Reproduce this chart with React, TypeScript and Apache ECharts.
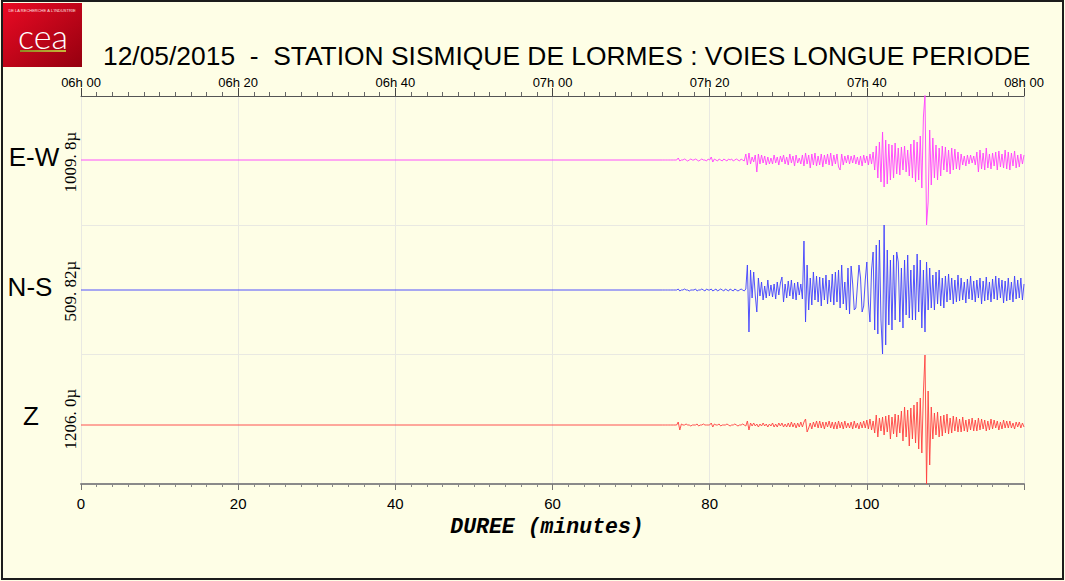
import React, { useEffect, useRef } from 'react';
import * as echarts from 'echarts';

// Sampling of the recorded traces (minutes after 06h00)
const TRACE_START_MIN = 74;
const TRACE_STEP_MIN = 0.2;

// Bottom axis tick labels (minutes) and top axis tick labels (clock time)
const DURATION_LABELS = ['0', '20', '40', '60', '80', '100', ''];
const CLOCK_LABELS = ['06h 00', '06h 20', '06h 40', '07h 00', '07h 20', '07h 40', '08h 00'];

// Channel names and scale labels
const CHANNELS = ['E-W', 'N-S', 'Z'];
const SCALES = ['1009. 8\u00b5', '509. 82\u00b5', '1206. 0\u00b5'];

// East-West channel (relative amplitude)
const EW = [
  0, 0, 0, 0, 0, 0, 0, 0, 0, 0,
  2, -1, 0, 0, 1, 0, -1, 0, 1, 0,
  0, 1, 0, -1, 0, 1, 0, 0, -1, 1,
  0, 3, -2, 1, 0, -1, 1, 0, -1, 1,
  0, -1, 1, 0, 1, -1, 0, 1, 0, -1,
  1, 0, -1, 6, -5, 7, -4, 3, -2, 5,
  -12, 6, -4, 5, -3, 4, -5, 3, -4, 2,
  -4, 5, -3, 3, -5, 4, -2, 5, -4, 3,
  -5, 6, -3, 4, -6, 5, -3, 2, -4, 5,
  -6, 7, -4, 5, -8, 6, -5, 7, -6, 4,
  -5, 6, -7, 5, -4, 6, -5, 7, -6, 5,
  -4, 6, -7, -10, 6, -5, 4, -3, 5, -4,
  4, -3, 5, -4, 3, -5, 4, -6, 5, -3,
  4, -5, 6, -4, 8, -10, 14, -18, 18, -22,
  28, -27, 20, -24, 16, -20, 15, -18, 17, -14,
  12, -15, 13, -10, 14, -12, 10, -16, 16, -18,
  20, -22, 18, -20, 24, -28, 43, 65, -65, -42,
  30, -25, 22, -18, 15, -20, 12, -16, 14, -10,
  13, -12, 10, -14, 12, -10, 11, -9, 8, -10,
  6, -5, 4, -6, 5, -4, 5, -3, 4, -5,
  8, -12, 10, -9, 7, -10, 12, -8, 6, -9,
  7, -6, 8, -10, 9, -7, 6, -8, 10, -9,
  8, -10, 7, -6, 9, -8, 5, -7, 6, -4,
  5,
];

// North-South channel
const NS = [
  0, 0, 0, 0, 0, 0, 0, 0, 0, 0,
  1, -1, 0, 0, 1, 0, 0, -1, 0, 0,
  0, 1, -1, 0, 0, 1, 0, -1, 1, 0,
  0, 1, -1, 0, 1, -1, 0, 1, 0, -1,
  1, 0, -1, 1, 0, -1, 1, 0, -1, 0,
  1, 0, -1, 1, 25, -42, 20, -8, 18, -5,
  -22, 12, -6, 8, -10, 4, -8, 10, -6, 5,
  -7, 6, -9, 8, -5, 7, 13, -12, 6, -8,
  9, -6, 10, -9, 7, -10, 8, -5, 6, -9,
  49, -32, 25, -20, 12, -15, 18, -10, 14, -12,
  13, -16, 12, -10, 15, -14, 10, -12, 16, -15,
  18, -12, 20, -18, 25, -14, 8, -20, 22, -24,
  24, 6, -20, -18, 4, 25, 12, -22, -16, 10,
  28, -12, -32, 20, 38, -40, 45, -44, 50, -30,
  -64, 65, -55, 40, -35, 30, -40, 35, -30, 38,
  28, -32, 22, -38, 30, -25, 35, -28, 20, -30,
  25, -30, 36, -22, 30, -38, 20, -42, 28, -20,
  22, -18, 15, -20, 18, -14, 20, -16, 12, -18,
  14, -12, 16, -10, 12, -14, 10, -12, 15, -11,
  12, -10, 8, -13, 11, -9, 14, -10, 9, -12,
  10, -8, 12, -14, 9, -11, 13, -10, 8, -12,
  11, -9, 14, -10, 12, -8, 10, -13, 9, -11,
  12, -10, 8, -12, 14, -9, 10, -8, 12, -10,
  6,
];

// Vertical channel
const Z = [
  0, 0, 0, 0, 0, 0, 0, 0, 0, 0,
  3, -5, 1, 0, 0, 1, 0, 0, -1, 0,
  0, 0, 1, -1, 0, 0, 1, 0, 0, 0,
  0, 2, -2, 1, 0, 0, 1, -1, 0, 0,
  0, 1, 0, -1, 0, 0, 1, 0, -1, 0,
  0, 1, 0, -1, 4, -5, 2, -1, 2, -1,
  1, -2, 1, -1, 2, -1, 1, -2, 1, -1,
  2, -2, 1, -2, 2, -1, 2, -2, 1, -2,
  2, -2, 3, -2, 2, -3, 2, -2, 3, -2,
  3, 6, -7, -3, 2, -4, 3, -2, 4, -3,
  4, -3, 3, -4, 3, -2, 4, -3, 3, -4,
  3, -4, 4, -3, 3, -4, 4, -3, 2, -3,
  3, -4, 4, -3, 2, -4, 3, -3, 4, -3,
  5, -4, 6, -5, 4, -8, 10, -12, 7, -6,
  8, -10, 9, -7, 10, -14, 8, -9, 11, -12,
  10, -8, 14, -16, 18, -12, 15, -21, 17, -14,
  20, -18, 23, -24, 27, -28, 33, 70, -59, 34,
  -40, 18, -14, 12, -10, 13, -12, 9, -11, 10,
  -8, 11, -9, 7, -8, 9, -6, 8, -7, 6,
  -7, 8, -6, 5, -7, 6, -5, 7, -6, 5,
  -6, 7, -5, 6, -4, 5, -6, 4, -5, 6,
  -4, 5, -3, 4, -5, 3, -4, 5, -3, 4,
  -3, 4, -3, 2, -4, 3, -2, 3, -3, 2,
  -2,
];

const TRACES = [EW, NS, Z];
const TRACE_COLORS = ['#ff40ff', '#4040ff', '#ff4040'];
// y-range of each panel (down, up)
const PANEL_RANGES: [number, number][] = [[-65, 64], [-64, 65], [-59, 71]];

const BG = '#fefee6';
const PLOT_LEFT = 81;
const PLOT_RIGHT = 1065 - 1024;
const PANEL_TOPS = [96, 225, 354];
const PANEL_HEIGHTS = [129, 129, 130];
const LABEL_Y = [157, 287, 416];
const LABEL_X = [34, 30, 31];
const SCALE_Y = [162, 291, 419];

function toPairs(values: number[]): [number, number][] {
  const out: [number, number][] = [[0, 0]];
  values.forEach((v, i) => out.push([TRACE_START_MIN + i * TRACE_STEP_MIN, v]));
  return out;
}

function buildOption(): echarts.EChartsOption {
  const grids: any[] = [
    { left: PLOT_LEFT, right: PLOT_RIGHT, top: 96, height: 388 },
  ];
  const xAxes: any[] = [
    {
      gridIndex: 0,
      type: 'value',
      position: 'bottom',
      min: 0,
      max: 120,
      interval: 20,
      axisLine: { show: true, lineStyle: { color: '#8a8a8a', width: 2 } },
      axisTick: { show: true, length: 6, lineStyle: { color: '#777' } },
      minorTick: { show: true, splitNumber: 10, length: 3, lineStyle: { color: '#888' } },
      splitLine: { show: true, lineStyle: { color: '#e9e9e2', width: 1 } },
      axisLabel: {
        margin: 12,
        color: '#000',
        fontSize: 15,
        fontFamily: 'Liberation Sans, Arial, sans-serif',
        formatter: (v: number) => DURATION_LABELS[Math.round(v / 20)] ?? '',
      },
    },
    {
      gridIndex: 0,
      type: 'value',
      position: 'top',
      min: 0,
      max: 120,
      interval: 20,
      axisLine: { show: true, lineStyle: { color: '#555', width: 1 } },
      axisTick: { show: true, length: 8, lineStyle: { color: '#444' } },
      minorTick: { show: true, splitNumber: 10, length: 4, lineStyle: { color: '#666' } },
      splitLine: { show: false },
      axisLabel: {
        margin: 7,
        color: '#000',
        fontSize: 13,
        fontFamily: 'Liberation Sans, Arial, sans-serif',
        formatter: (v: number) => CLOCK_LABELS[Math.round(v / 20)] ?? '',
      },
    },
  ];
  const yAxes: any[] = [
    {
      gridIndex: 0,
      type: 'value',
      min: 0,
      max: 3,
      interval: 1,
      axisLine: { show: false },
      axisTick: { show: false },
      axisLabel: { show: false },
      splitLine: { show: true, lineStyle: { color: '#e9e9e2', width: 1 } },
    },
  ];
  const series: any[] = [];
  TRACES.forEach((vals, k) => {
    grids.push({ left: PLOT_LEFT, right: PLOT_RIGHT, top: PANEL_TOPS[k], height: PANEL_HEIGHTS[k] });
    xAxes.push({ gridIndex: k + 1, type: 'value', min: 0, max: 120, show: false });
    yAxes.push({
      gridIndex: k + 1,
      type: 'value',
      min: PANEL_RANGES[k][0],
      max: PANEL_RANGES[k][1],
      show: false,
      splitLine: { show: false },
    });
    series.push({
      type: 'line',
      name: CHANNELS[k],
      xAxisIndex: k + 2,
      yAxisIndex: k + 1,
      data: toPairs(vals),
      showSymbol: false,
      symbol: 'none',
      clip: true,
      z: 5,
      lineStyle: { color: TRACE_COLORS[k], width: 0.9 },
    });
  });

  const graphics: any[] = [
    {
      type: 'rect',
      z: 100,
      shape: { x: 2, y: 1, width: 1061, height: 578 },
      style: { fill: 'none', stroke: '#1c1c1c', lineWidth: 2 },
    },
    {
      type: 'group',
      z: 100,
      children: [
        {
          type: 'rect',
          shape: { x: 3, y: 3, width: 79, height: 64 },
          style: {
            fill: new echarts.graphic.LinearGradient(0, 0, 1, 1, [
              { offset: 0, color: '#ea0a24' },
              { offset: 1, color: '#95000f' },
            ]),
          },
        },
        {
          type: 'text',
          x: 42,
          y: 10,
          style: {
            text: "DE LA RECHERCHE \u00c0 L'INDUSTRIE",
            fill: '#ffe0e0',
            fontSize: 4,
            lineHeight: 4,
            fontFamily: 'Liberation Sans, Arial, sans-serif',
            align: 'center',
            verticalAlign: 'middle',
          },
        },
        {
          type: 'text',
          x: 43,
          y: 35,
          style: {
            text: 'cea',
            fill: '#ffffff',
            fontSize: 34,
            lineHeight: 18,
            fontWeight: 300,
            fontFamily: 'Lato, DejaVu Sans, sans-serif',
            align: 'center',
            verticalAlign: 'middle',
          },
        },
        {
          type: 'rect',
          shape: { x: 20, y: 50, width: 46, height: 2 },
          style: {
            fill: new echarts.graphic.LinearGradient(0, 0, 1, 0, [
              { offset: 0, color: '#8d8a22' },
              { offset: 1, color: '#c9b53a' },
            ]),
          },
        },
      ],
    },
    {
      type: 'text',
      z: 100,
      x: 103,
      y: 56,
      style: {
        text: '12/05/2015 \u00a0- \u00a0STATION SISMIQUE DE LORMES : VOIES LONGUE PERIODE',
        fill: '#000',
        fontSize: 26.4,
        fontFamily: 'Liberation Sans, Arial, sans-serif',
        align: 'left',
        verticalAlign: 'middle',
      },
    },
    {
      type: 'text',
      z: 100,
      x: 547,
      y: 527,
      style: {
        text: 'DUREE (minutes)',
        fill: '#000',
        fontSize: 21.5,
        fontWeight: 'bold',
        fontStyle: 'italic',
        fontFamily: 'Liberation Mono, Courier New, monospace',
        align: 'center',
        verticalAlign: 'middle',
      },
    },
  ];
  CHANNELS.forEach((name, k) => {
    graphics.push({
      type: 'text',
      z: 100,
      x: LABEL_X[k],
      y: LABEL_Y[k],
      style: {
        text: name,
        fill: '#000',
        fontSize: 26,
        fontFamily: 'Liberation Sans, Arial, sans-serif',
        align: 'center',
        verticalAlign: 'middle',
      },
    });
    graphics.push({
      type: 'text',
      z: 100,
      x: 70,
      y: SCALE_Y[k],
      rotation: Math.PI / 2,
      style: {
        text: SCALES[k],
        fill: '#000',
        fontSize: 17,
        fontFamily: 'Liberation Serif, Times New Roman, serif',
        align: 'center',
        verticalAlign: 'middle',
      },
    });
  });

  return {
    animation: false,
    backgroundColor: BG,
    grid: grids,
    xAxis: xAxes,
    yAxis: yAxes,
    series,
    graphic: graphics,
  } as any;
}

export default function App() {
  const ref = useRef<HTMLDivElement>(null);
  useEffect(() => {
    document.body.style.margin = '0';
    const chart = echarts.init(ref.current!, null, { renderer: 'svg' });
    chart.setOption(buildOption());
    return () => chart.dispose();
  }, []);
  return <div ref={ref} style={{ width: 1065, height: 581 }} />;
}
